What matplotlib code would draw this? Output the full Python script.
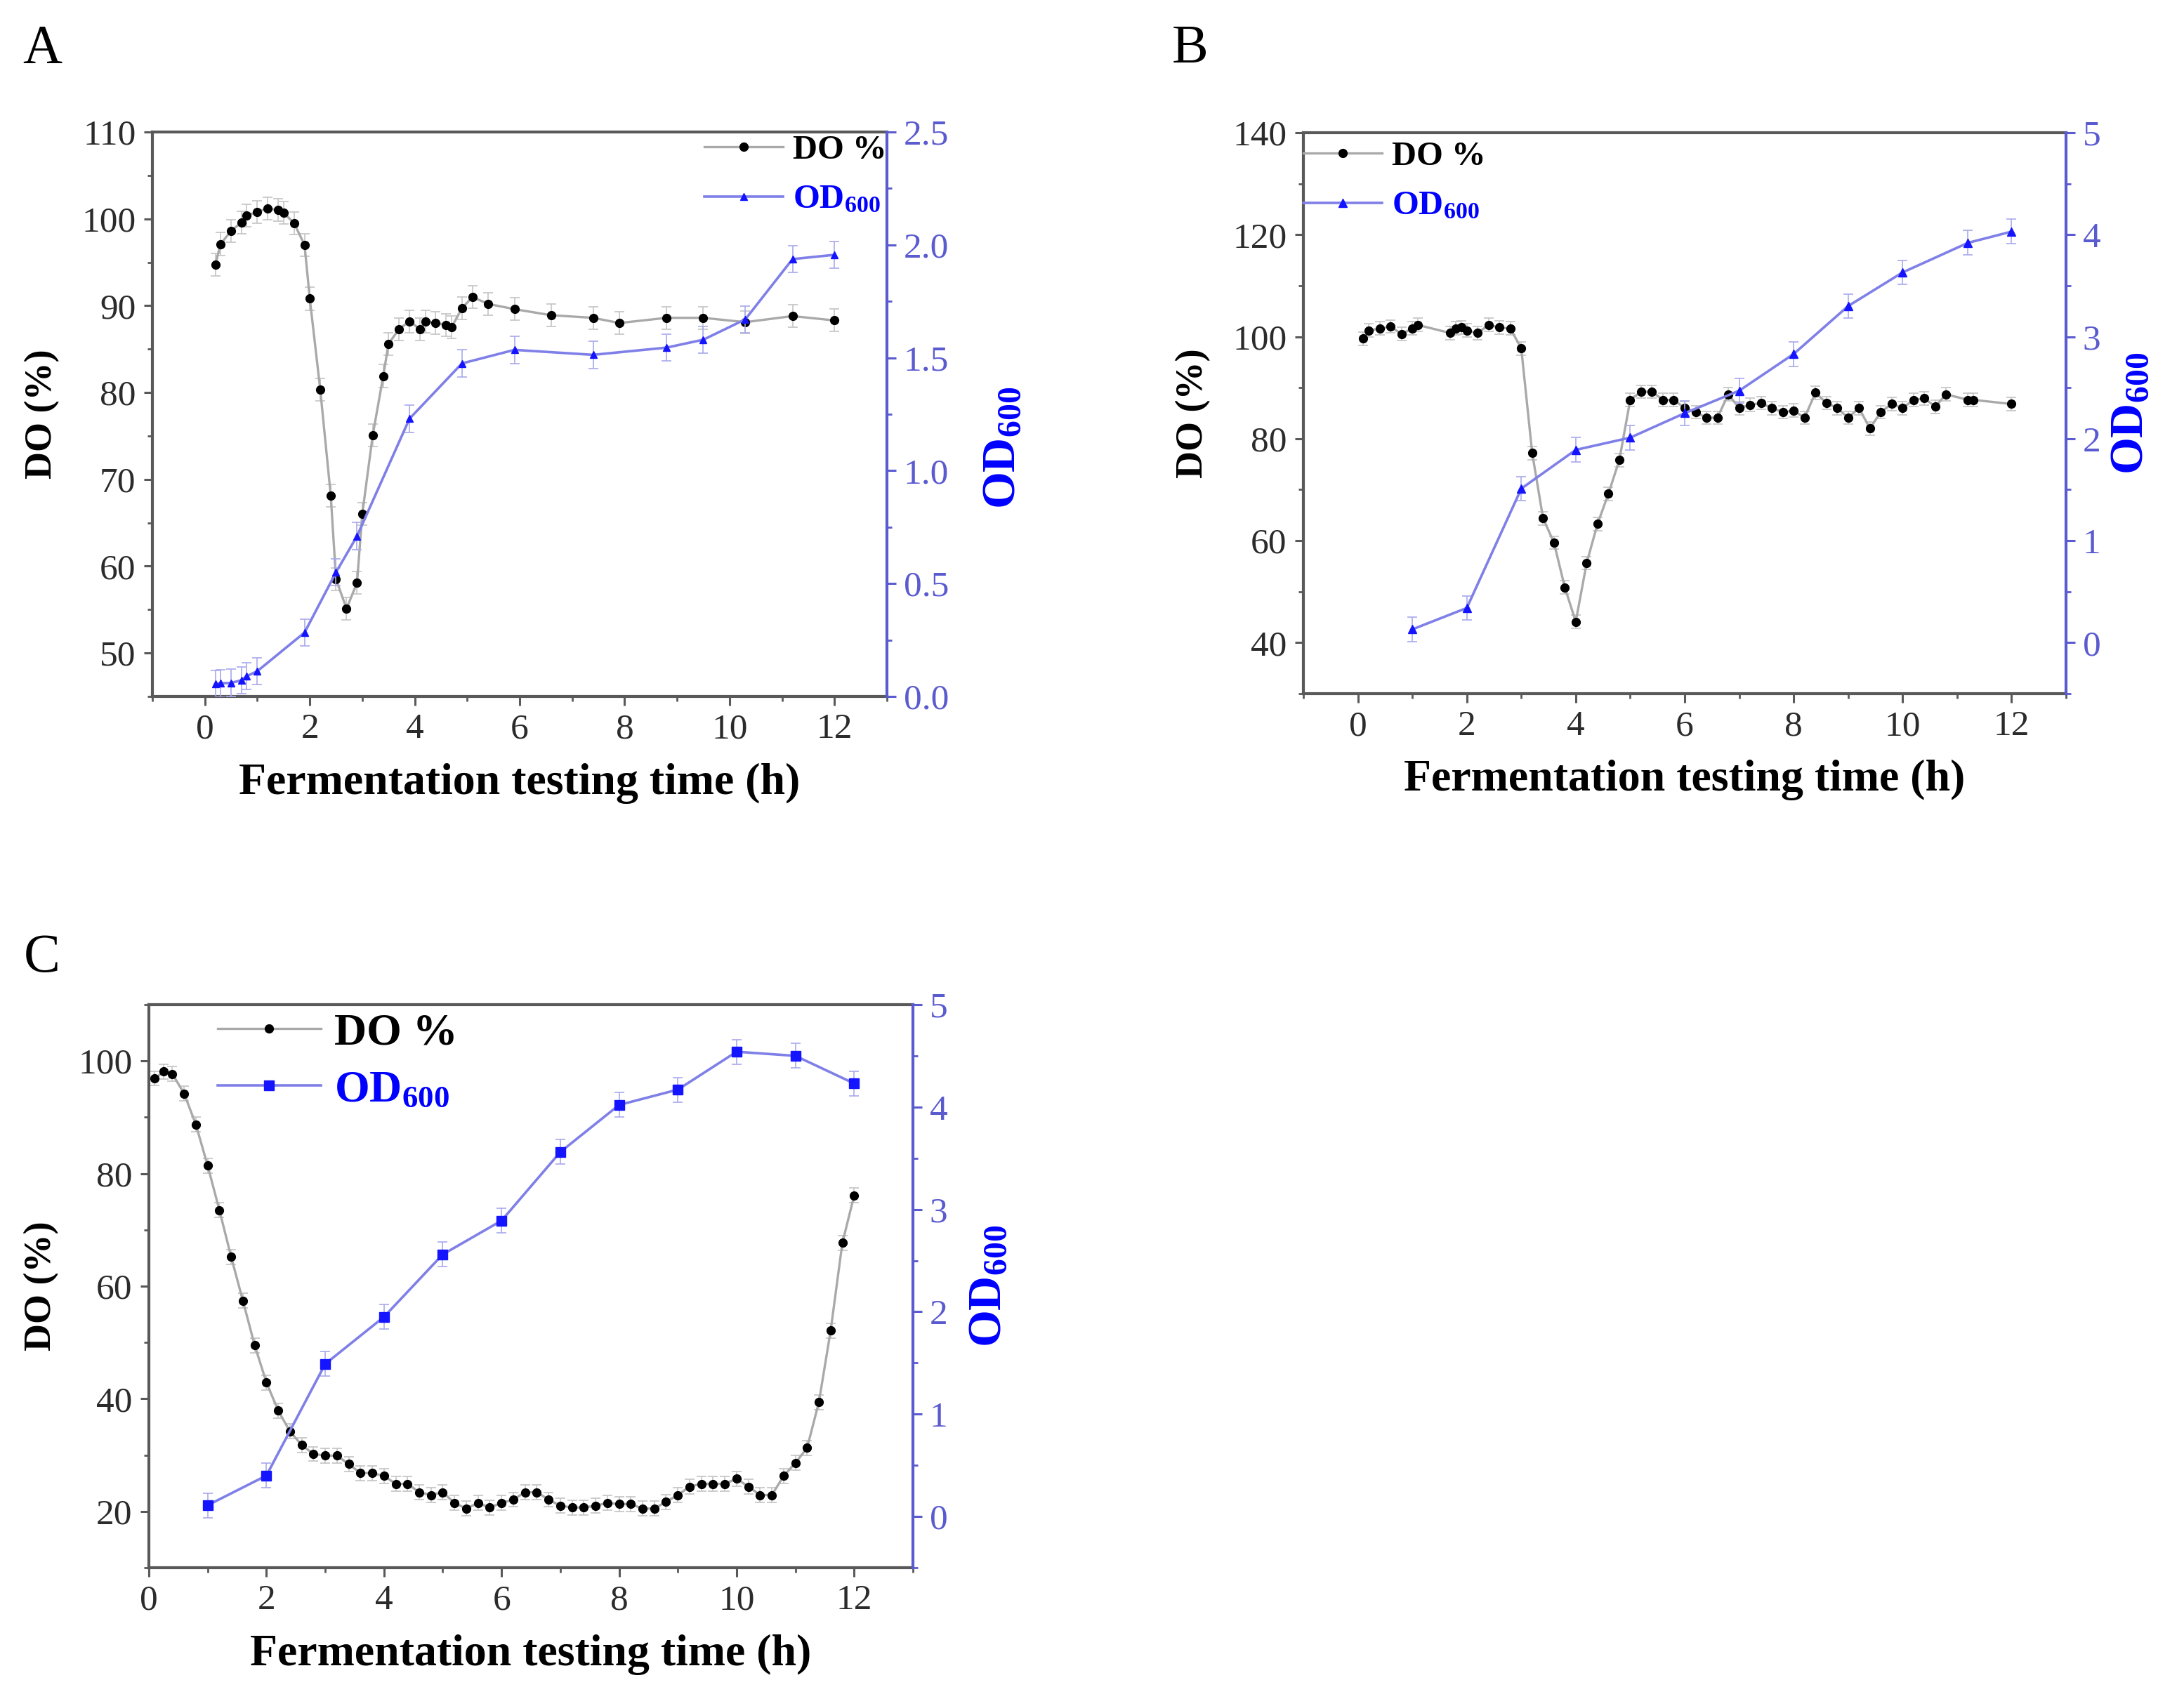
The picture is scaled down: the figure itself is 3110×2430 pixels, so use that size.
import matplotlib
matplotlib.use('Agg')
import matplotlib.pyplot as plt
from matplotlib.ticker import MultipleLocator, FormatStrFormatter

plt.rcParams['font.family'] = ['Liberation Serif', 'DejaVu Serif']
plt.rcParams['mathtext.fontset'] = 'custom'
plt.rcParams['mathtext.rm'] = 'Liberation Serif'
plt.rcParams['mathtext.bf'] = 'Liberation Serif:bold'

# ---- panel A data ----
a_do_t = [0.2, 0.3, 0.5, 0.7, 0.8, 1.0, 1.2, 1.4, 1.5, 1.7, 1.9, 2.0, 2.2, 2.4, 2.5, 2.7,
          2.9, 3.0, 3.2, 3.4, 3.5, 3.7, 3.9, 4.1, 4.2, 4.4, 4.6, 4.7, 4.9, 5.1, 5.4, 5.9,
          6.6, 7.4, 7.9, 8.8, 9.5, 10.3, 11.2, 12.0]
a_do = [94.7, 97.1, 98.6, 99.6, 100.4, 100.8, 101.2, 101.0, 100.7, 99.5, 97.0, 90.8, 80.3,
        68.1, 58.5, 55.1, 58.1, 66.0, 75.1, 81.9, 85.6, 87.3, 88.2, 87.3, 88.2, 88.0, 87.8,
        87.5, 89.7, 91.0, 90.2, 89.6, 88.9, 88.6, 88.0, 88.6, 88.6, 88.1, 88.8, 88.3]
a_od_t = [0.2, 0.3, 0.5, 0.7, 0.8, 1.0, 1.9, 2.5, 2.9, 3.9, 4.9, 5.9, 7.4, 8.8, 9.5, 10.3,
          11.2, 12.0]
a_od = [0.055, 0.058, 0.06, 0.072, 0.09, 0.112, 0.283, 0.55, 0.71, 1.23, 1.475, 1.535,
        1.513, 1.545, 1.58, 1.67, 1.937, 1.956]

# ---- panel B data ----
b_do_t = [0.1, 0.2, 0.4, 0.6, 0.8, 1.0, 1.1, 1.7, 1.8, 1.9, 2.0, 2.2, 2.4, 2.6, 2.8, 3.0,
          3.2, 3.4, 3.6, 3.8, 4.0, 4.2, 4.4, 4.6, 4.8, 5.0, 5.2, 5.4, 5.6, 5.8, 6.0, 6.2,
          6.4, 6.6, 6.8, 7.0, 7.2, 7.4, 7.6, 7.8, 8.0, 8.2, 8.4, 8.6, 8.8, 9.0, 9.2, 9.4,
          9.6, 9.8, 10.0, 10.2, 10.4, 10.6, 10.8, 11.2, 11.3, 12.0]
b_do = [99.6, 101.2, 101.6, 102.0, 100.5, 101.6, 102.3, 100.7, 101.6, 101.8, 101.2, 100.7,
        102.3, 101.8, 101.6, 97.7, 77.2, 64.4, 59.6, 50.8, 44.1, 55.6, 63.3, 69.2, 75.8,
        87.6, 89.2, 89.2, 87.6, 87.6, 86.0, 85.2, 84.1, 84.1, 88.7, 86.0, 86.6, 87.0, 86.0,
        85.2, 85.5, 84.1, 89.0, 87.0, 86.0, 84.1, 86.0, 82.0, 85.2, 86.8, 86.0, 87.6, 87.9,
        86.3, 88.7, 87.6, 87.6, 86.8]
b_od_t = [1, 2, 3, 4, 5, 6, 7, 8, 9, 10, 11.2, 12]
b_od = [0.13, 0.34, 1.51, 1.89, 2.01, 2.25, 2.47, 2.83, 3.30, 3.63, 3.92, 4.03]

# ---- panel C data ----
c_do_t = [0.1, 0.25, 0.4, 0.6, 0.8, 1.0, 1.2, 1.4, 1.6, 1.8, 2.0, 2.2, 2.4, 2.6, 2.8, 3.0,
          3.2, 3.4, 3.6, 3.8, 4.0, 4.2, 4.4, 4.6, 4.8, 5.0, 5.2, 5.4, 5.6, 5.8, 6.0, 6.2,
          6.4, 6.6, 6.8, 7.0, 7.2, 7.4, 7.6, 7.8, 8.0, 8.2, 8.4, 8.6, 8.8, 9.0, 9.2, 9.4,
          9.6, 9.8, 10.0, 10.2, 10.4, 10.6, 10.8, 11.0, 11.2, 11.4, 11.6, 11.8, 12.0]
c_do = [96.9, 98.1, 97.7, 94.2, 88.7, 81.4, 73.5, 65.2, 57.4, 49.5, 42.9, 37.9, 34.2, 31.8,
        30.2, 29.9, 29.9, 28.4, 26.8, 26.8, 26.3, 24.9, 24.9, 23.4, 22.9, 23.4, 21.5, 20.5,
        21.5, 20.7, 21.5, 22.1, 23.4, 23.4, 22.1, 21.0, 20.7, 20.7, 21.0, 21.5, 21.3, 21.3,
        20.5, 20.5, 21.7, 22.9, 24.4, 24.9, 24.9, 24.9, 25.8, 24.4, 22.9, 22.9, 26.3, 28.6,
        31.3, 39.4, 52.1, 67.7, 76.1]
c_od_t = [1, 2, 3, 4, 5, 6, 7, 8, 9, 10, 11, 12]
c_od = [0.11, 0.40, 1.49, 1.95, 2.56, 2.89, 3.56, 4.02, 4.17, 4.54, 4.50, 4.23]

do_err = 1.3
od_err_a = 0.06
od_err_bc = 0.12

do_line = '#a9a9a9'
od_line = '#7f7fe8'
od_mark = '#1414ff'
spine_c = '#595959'
right_c = '#5b5bd0'

W, H = 3110, 2430
fig = plt.figure(figsize=(W / 100, H / 100), dpi=100)


def panel(rect, do_t, do, od_t, od, od_marker, ms_od, xlim, ylim, y2lim,
          ymaj, y2maj, y2fmt, ylab_x, y2lab_xy, leg_kw, leg_size, leg_space):
    ax = fig.add_axes(rect)
    ax2 = ax.twinx()
    e1 = ax.errorbar(do_t, do, yerr=do_err, color=do_line, lw=2.4, marker='o', ms=8.5,
                     mfc='black', mec='black', ecolor='#c4c4c4', elinewidth=1.2,
                     capsize=5, capthick=1.2, label='DO %')
    od_e = od_err_a if y2lim[1] < 3 else od_err_bc
    e2 = ax2.errorbar(od_t, od, yerr=od_e, color=od_line, lw=2.6, marker=od_marker,
                      ms=ms_od, mfc=od_mark, mec=od_mark, ecolor='#a9a9ee',
                      elinewidth=1.2, capsize=5, capthick=1.2,
                      label=r'$\mathbf{OD_{600}}$')
    ax.set_xlim(*xlim)
    ax.set_ylim(*ylim)
    ax2.set_ylim(*y2lim)
    ax.xaxis.set_major_locator(MultipleLocator(2))
    ax.xaxis.set_minor_locator(MultipleLocator(1))
    ax.yaxis.set_major_locator(MultipleLocator(ymaj))
    ax.yaxis.set_minor_locator(MultipleLocator(ymaj / 2))
    ax2.yaxis.set_major_locator(MultipleLocator(y2maj))
    ax2.yaxis.set_minor_locator(MultipleLocator(y2maj / 2))
    ax2.yaxis.set_major_formatter(FormatStrFormatter(y2fmt))

    for s in ['left', 'top', 'bottom']:
        ax.spines[s].set_color(spine_c)
        ax.spines[s].set_linewidth(3)
        ax2.spines[s].set_visible(False)
    ax.spines['right'].set_visible(False)
    ax2.spines['right'].set_color(right_c)
    ax2.spines['right'].set_linewidth(3)

    ax.tick_params(which='major', direction='out', length=9, width=2.2, color=spine_c,
                   labelsize=37, labelcolor='#2b2b2b', pad=8)
    ax.tick_params(which='minor', direction='out', length=5, width=2, color=spine_c)
    ax2.tick_params(which='major', direction='out', length=9, width=2.2, color=right_c,
                    labelsize=37, labelcolor=right_c, pad=8)
    ax2.tick_params(which='minor', direction='out', length=5, width=2, color=right_c)

    ax.set_xlabel('Fermentation testing time (h)', fontsize=46, fontweight='bold',
                  va='center')
    ax.xaxis.set_label_coords(0.5, -0.154)
    ax.set_ylabel('DO (%)', fontsize=39, fontweight='bold', va='center')
    ax.yaxis.set_label_coords(ylab_x, 0.5)
    ax2.set_ylabel(r'$\mathbf{OD_{600}}$', fontsize=49, color='#0000ff', va='center',
                   rotation=90)
    ax2.yaxis.set_label_coords(*y2lab_xy)

    leg = ax2.legend([e1[0], e2[0]], ['DO %', r'$\mathbf{OD_{600}}$'], frameon=False,
                     prop={'size': leg_size, 'weight': 'bold'}, borderpad=0,
                     borderaxespad=0, handletextpad=0.3, labelspacing=leg_space,
                     **leg_kw)
    leg.get_texts()[1].set_color('#0000ff')
    return ax, ax2


def rect(l, t, r, b):
    return [l / W, 1 - b / H, (r - l) / W, (b - t) / H]


panel(rect(217, 188, 1263, 992), a_do_t, a_do, a_od_t, a_od, '^', 7,
      (-1, 13), (45, 110), (0, 2.5), 10, 0.5, '%.1f', -0.15, (1.158, 0.44),
      dict(loc='upper right', bbox_to_anchor=(1.0, 0.995), handlelength=2.3), 35, 0.55)

panel(rect(1856, 189, 2942, 988), b_do_t, b_do, b_od_t, b_od, '^', 9,
      (-1, 13), (30, 140), (-0.5, 5), 20, 1, '%d', -0.144, (1.085, 0.5),
      dict(loc='upper left', bbox_to_anchor=(0.0, 0.985), handlelength=2.3), 35, 0.55)

panel(rect(212, 1431, 1300, 2233), c_do_t, c_do, c_od_t, c_od, 's', 10,
      (0, 13), (10, 110), (-0.5, 5), 20, 1, '%d', -0.14, (1.099, 0.5),
      dict(loc='upper left', bbox_to_anchor=(0.09, 0.985), handlelength=2.3), 46, 0.35)

fig.text(60 / W, 1 - 70 / H, 'A', fontsize=56, ha='center', va='center')
fig.text(1695 / W, 1 - 70 / H, 'B', fontsize=56, ha='center', va='center')
fig.text(60 / W, 1 - 1365 / H, 'C', fontsize=56, ha='center', va='center')

fig.savefig('out.png', dpi=100)
